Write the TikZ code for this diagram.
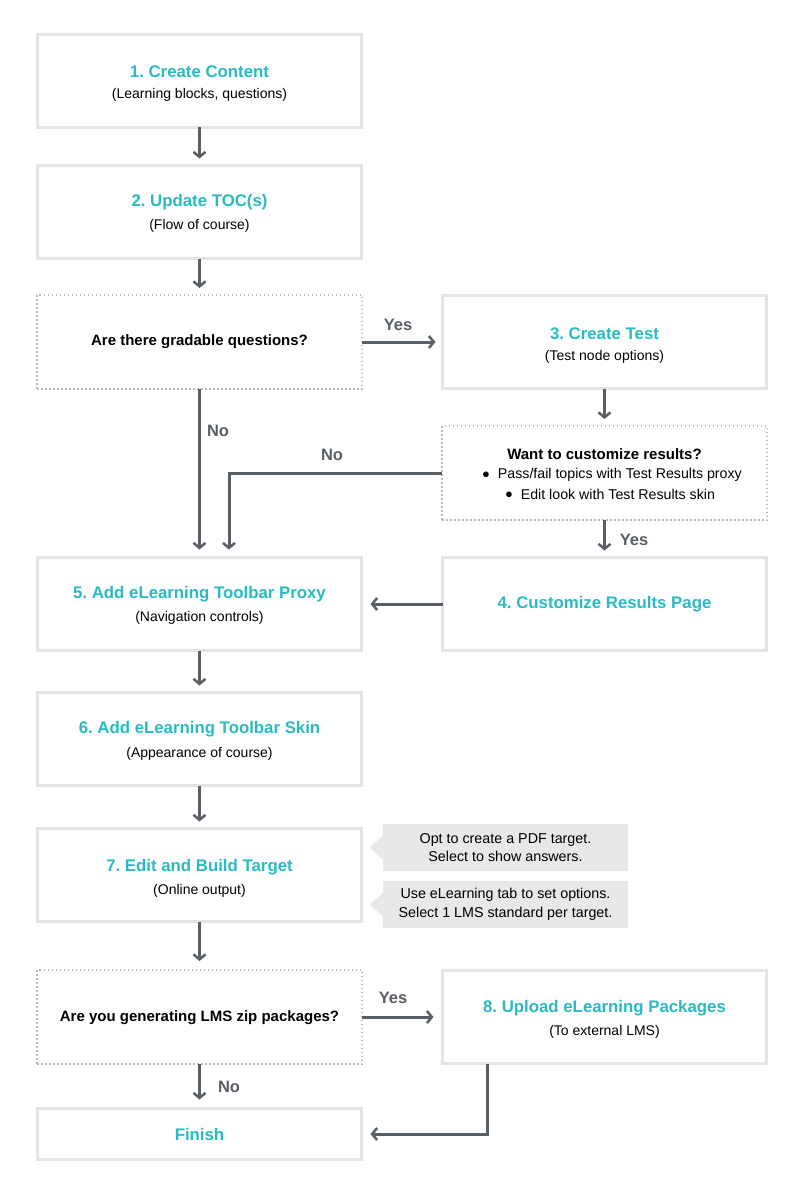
\documentclass[tikz,border=0pt]{standalone}
\usepackage{fontspec}
\setmainfont{Liberation Sans}
\usetikzlibrary{arrows.meta}
\frenchspacing
\definecolor{teal1}{RGB}{41,187,195}
\definecolor{arrgray}{RGB}{90,95,102}
\definecolor{boxgray}{RGB}{228,228,228}
\definecolor{dotgray}{RGB}{185,185,185}
\definecolor{callgray}{RGB}{232,232,232}
\newcommand{\bdot}{\raisebox{0.3pt}{\fontsize{13}{13}\selectfont ●}}
\tikzset{
 stepbox/.style={draw=boxgray, line width=3pt, fill=white, minimum width=324pt, minimum height=93pt, inner sep=0pt, outer sep=0pt},
 decbox/.style={draw=dotgray, line width=1.5pt, dash pattern=on 1.5pt off 2.5pt, minimum width=325pt, minimum height=94pt, inner sep=0pt, outer sep=0pt},
 ttl/.style={text=teal1, font=\fontsize{16.8}{19}\selectfont\bfseries, inner sep=0pt},
 subt/.style={font=\fontsize{14}{16}\selectfont, inner sep=0pt},
 qtxt/.style={font=\fontsize{15}{18}\selectfont\bfseries, inner sep=0pt},
 btxt/.style={font=\fontsize{14.2}{16}\selectfont, inner sep=0pt},
 yn/.style={text=arrgray, font=\fontsize{16.5}{19}\selectfont\bfseries, inner sep=0pt},
 arr/.style={draw=arrgray, line width=3pt, -{Straight Barb[length=5pt,width=12pt,line width=2.5pt]}, shorten >=7pt},
 callout/.style={fill=callgray, minimum width=245pt, minimum height=47pt, inner sep=0pt, outer sep=0pt, align=center, font=\fontsize{14.3}{18.5}\selectfont},
}
\begin{document}
\begin{tikzpicture}[x=1pt,y=-1pt]
\useasboundingbox (0,0) rectangle (805,1197);
\fill[white] (0,0) rectangle (805,1197);

% boxes
\node[stepbox] (b1) at (199.5,80.5) {};
\node[stepbox] (b2) at (199.5,212) {};
\node[decbox]  (d1) at (199.5,342) {};
\node[stepbox] (b3) at (604.5,342) {};
\node[decbox]  (d2) at (604.5,473) {};
\node[stepbox] (b4) at (604.5,604) {};
\node[stepbox] (b5) at (199.5,604) {};
\node[stepbox] (b6) at (199.5,739) {};
\node[stepbox] (b7) at (199.5,875) {};
\node[decbox]  (d3) at (199.5,1017) {};
\node[stepbox] (b8) at (604.5,1017) {};
\node[stepbox, minimum height=51pt] (fin) at (199.5,1134) {};

% texts
\node[ttl] (t1) at (199.5,71.5) {1. Create Content};
\node[subt] (s1) at (199.5,95) {(Learning blocks, questions)};
\node[ttl] (t2) at (199.5,202.5) {2. Update TOC(s)};
\node[subt] (s2) at (199.5,225.5) {(Flow of course)};
\node[qtxt] (q1) at (199.5,341.5) {Are there gradable questions?};
\node[ttl] (t3) at (604.5,333.5) {3. Create Test};
\node[subt] (s3) at (604.5,356.5) {(Test node options)};
\node[qtxt] (q2) at (604.5,454.5) {Want to customize results?};
\node[btxt] (q2a) at (612,475) {\bdot\ \ Pass/fail topics with Test Results proxy};
\node[btxt] (q2b) at (610,494) {\bdot\ \ Edit look with Test Results skin};
\node[ttl] (t4) at (604.5,604.5) {4. Customize Results Page};
\node[ttl] (t5) at (199.5,594.5) {5. Add eLearning Toolbar Proxy};
\node[subt] (s5) at (199.5,617.5) {(Navigation controls)};
\node[ttl] (t6) at (199.5,729.5) {6. Add eLearning Toolbar Skin};
\node[subt] (s6) at (199.5,753.5) {(Appearance of course)};
\node[ttl] (t7) at (199.5,867.5) {7. Edit and Build Target};
\node[subt] (s7) at (199.5,890.5) {(Online output)};
\node[qtxt] (q3) at (199.5,1017.5) {Are you generating LMS zip packages?};
\node[ttl] (t8) at (604.5,1008.5) {8. Upload eLearning Packages};
\node[subt] (s8) at (604.5,1031.5) {(To external LMS)};
\node[ttl] (tf) at (199.5,1134.5) {Finish};

% callouts
\node[callout] (c1) at (505.5,847.5) {Opt to create a PDF target.\\Select to show answers.};
\fill[callgray] ([yshift=-12pt]c1.west) -- ([xshift=-13pt]c1.west) -- ([yshift=12pt]c1.west) -- cycle;
\node[callout] (c2) at (505.5,904.5) {Use eLearning tab to set options.\\Select 1 LMS standard per target.};
\fill[callgray] ([yshift=-12pt]c2.west) -- ([xshift=-13pt]c2.west) -- ([yshift=12pt]c2.west) -- cycle;

% connectors
\draw[arr] (b1.south) -- (b2.north);
\draw[arr] (b2.south) -- (d1.north);
\draw[arr] (d1.east) -- (b3.west);
\draw[arr] (b3.south) -- (d2.north);
\draw[arr, shorten >=8pt] (d1.south) -- (b5.north);
\draw[arr, shorten >=8pt] (d2.west) -| ([xshift=29.5pt]b5.north);
\draw[arr, shorten >=7pt] (d2.south) -- (b4.north);
\draw[arr, shorten >=9pt] (b4.west) -- (b5.east);
\draw[arr] (b5.south) -- (b6.north);
\draw[arr] (b6.south) -- (b7.north);
\draw[arr, shorten >=9pt] (b7.south) -- (d3.north);
\draw[arr, shorten >=9pt] (d3.east) -- (b8.west);
\draw[arr, shorten >=9pt] (d3.south) -- (fin.north);
\draw[arr, shorten >=9pt] ([xshift=-117.5pt]b8.south) |- (fin.east);

% labels
\node[yn] (l1) at (398,325) {Yes};
\node[yn] (l2) at (218,431) {No};
\node[yn] (l3) at (332,455) {No};
\node[yn] (l4) at (634,540) {Yes};
\node[yn] (l5) at (393,998) {Yes};
\node[yn] (l6) at (229,1087) {No};
\end{tikzpicture}
\end{document}
